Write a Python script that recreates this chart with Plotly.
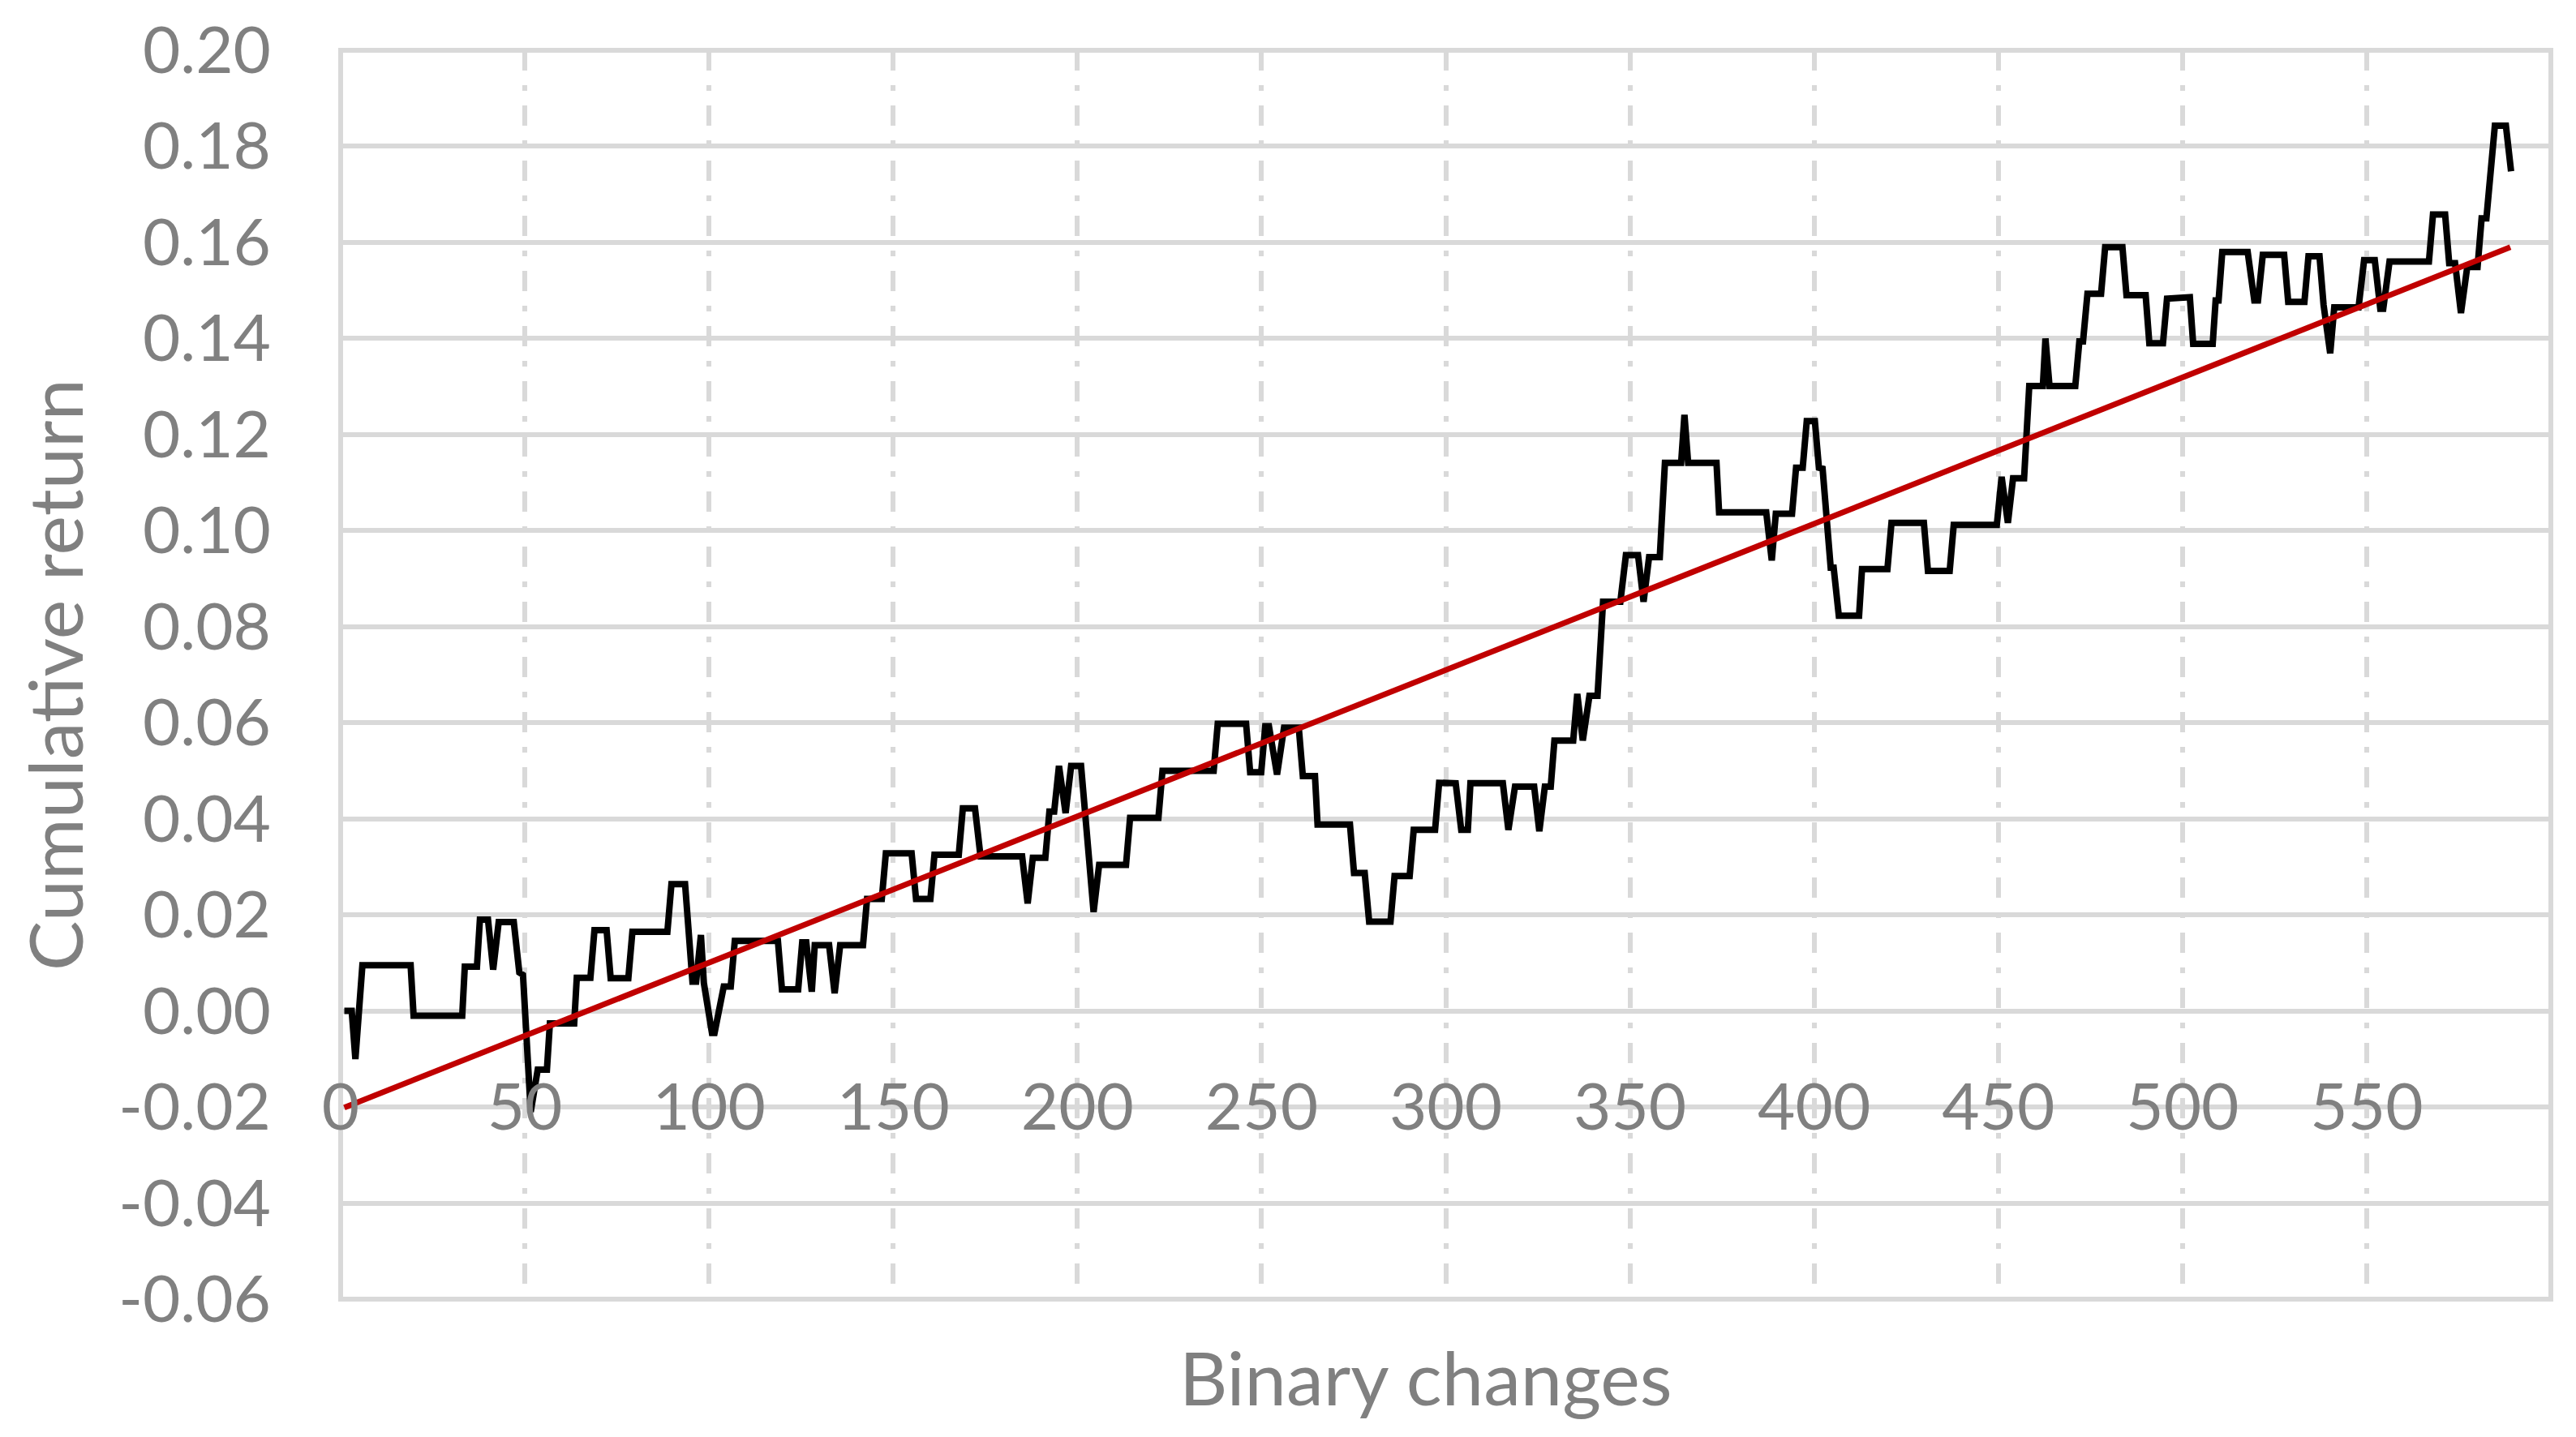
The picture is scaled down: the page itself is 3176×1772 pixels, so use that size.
import plotly.graph_objects as go

# Cumulative return path (vertices of the black line)
ret_x = [1, 3, 4, 5.9, 19, 19.8, 33, 33.7, 37, 37.8, 40, 41.4, 42.9, 47, 48.5, 49.5,
         51.6, 53.5, 56, 56.8, 63.4, 64.1, 67.8, 68.9, 72.2, 73.3, 78.1, 79.2, 88.7, 89.8,
         93.5, 94.6, 95.5, 96.5, 97.8, 98.6, 100.8, 101.5,
         104, 105.9, 107, 118.7, 119.8, 124.2, 125.3, 126.4, 127.9, 128.7, 132.6, 134.1,
         135.6, 141.8, 142.9, 146.9, 148, 155, 156.2, 160.1, 161.2, 167.8, 168.9, 172.2,
         173.7, 185, 186.5, 187.9, 191.3, 192.4, 193.7, 195, 196.8, 198.3, 201, 204.4,
         205.9, 213.2, 214.3, 222, 223.1, 237, 238.1, 245.8, 246.9, 249.9, 251, 252,
         254.2, 256.1, 260.1, 261.2, 264.5, 265.2, 274, 275.1, 278, 279.2, 285, 286.1,
         290.2, 291.3, 297.1, 298.2, 302.7, 304.2, 306, 306.7, 315.5, 317, 318.8, 324,
         325.4, 326.9, 328.5, 329.5, 334.6, 335.7, 337.2, 339, 341.2, 342.7, 347.4, 348.9,
         352.2, 353.7, 355.2, 358.1, 359.5, 363.9, 364.8, 365.8, 373.5, 374.2, 387, 388.5,
         389.6, 394, 395.1, 396.9, 398, 400.2, 401.3, 402.3, 404.5, 405.3, 406.7, 412.2,
         413, 419.9, 421, 429.8, 430.9, 436.8, 437.9, 449.6, 450.9, 452.6, 454, 457,
         458.4, 462.1, 462.8, 463.9, 470.9, 472, 473, 474.2, 477.9, 479, 483.7, 484.8,
         490, 491, 494.7, 495.8, 502, 502.9, 508.2, 509, 509.8, 510.8, 517.7, 519.5,
         520.5, 521.8, 527.6, 528.7, 533.1, 534.2, 537.2, 538.3, 540.1, 541.2, 547.8,
         549.3, 552.2, 553.7, 554.5, 556.2, 566.9, 568, 571.3, 572.4, 574, 575.6, 577.3,
         580.1, 581.2, 582.5, 584.8, 587.8, 589.2]
ret_y = [0.000, 0.000, -0.010, 0.0095, 0.0095, -0.001, -0.001, 0.0092, 0.0092, 0.019, 0.019,
         0.0086, 0.0185, 0.0185, 0.0080, 0.0075,
         -0.021, -0.0122, -0.0122, -0.0026, -0.0026, 0.0069, 0.0069, 0.0168, 0.0168, 0.0068,
         0.0068, 0.0165, 0.0165, 0.0264,
         0.0264, 0.0162, 0.0061, 0.0061, 0.0158, 0.0058, -0.0046, -0.0046,
         0.0051, 0.0051, 0.0146, 0.0146, 0.0045, 0.0045, 0.0143, 0.0143, 0.0040, 0.0137,
         0.0137, 0.0037,
         0.0137, 0.0137, 0.0233, 0.0233, 0.0328, 0.0328, 0.0233, 0.0233, 0.0325, 0.0325,
         0.0422, 0.0422,
         0.0322, 0.0322, 0.0224, 0.0319, 0.0319, 0.0415, 0.0415, 0.051, 0.0412, 0.051,
         0.051, 0.0206,
         0.0304, 0.0304, 0.0402, 0.0402, 0.050, 0.050, 0.0598, 0.0598, 0.0497, 0.0497,
         0.0593, 0.0593,
         0.0492, 0.059, 0.059, 0.0489, 0.0489, 0.0388, 0.0388, 0.0287, 0.0287, 0.0186,
         0.0186, 0.0281,
         0.0281, 0.0377, 0.0377, 0.0475, 0.0474, 0.0377, 0.0377, 0.0474, 0.0474, 0.0377,
         0.0467, 0.0467,
         0.0374, 0.0467, 0.0467, 0.0563, 0.0563, 0.066, 0.0563, 0.0656, 0.0656, 0.0852,
         0.0852, 0.0949,
         0.0949, 0.0852, 0.0945, 0.0945, 0.1141, 0.1141, 0.1241, 0.1141, 0.1141, 0.1038,
         0.1038, 0.0938,
         0.1035, 0.1035, 0.1131, 0.1131, 0.1228, 0.1228, 0.1131, 0.1129, 0.0923, 0.0923,
         0.0823, 0.0823,
         0.092, 0.092, 0.1016, 0.1016, 0.0916, 0.0916, 0.1012, 0.1012, 0.1112, 0.1016,
         0.1109, 0.1109,
         0.1301, 0.1301, 0.140, 0.1301, 0.1301, 0.1394, 0.1394, 0.1493, 0.1493, 0.159,
         0.159, 0.149,
         0.149, 0.139, 0.139, 0.1483, 0.1486, 0.1389, 0.1389, 0.1479, 0.1479, 0.158,
         0.158, 0.1479,
         0.1479, 0.1574, 0.1574, 0.1476, 0.1476, 0.1571, 0.1571, 0.147, 0.1369, 0.1465,
         0.1465,
         0.1563, 0.1563, 0.1462, 0.1462, 0.156, 0.156, 0.1658, 0.1658, 0.1557, 0.1557,
         0.1453, 0.1549,
         0.1549, 0.165, 0.165, 0.1843, 0.1843, 0.1748]

# Linear trend line endpoints
trend_x = [1, 589]
trend_y = [-0.0201, 0.1590]

# Axis ticks
x_tick_vals = [0, 50, 100, 150, 200, 250, 300, 350, 400, 450, 500, 550]
x_tick_text = ["0", "50", "100", "150", "200", "250", "300", "350", "400", "450", "500", "550"]
y_tick_vals = [-0.06, -0.04, -0.02, 0.00, 0.02, 0.04, 0.06, 0.08, 0.10, 0.12, 0.14, 0.16, 0.18, 0.20]
y_tick_text = ["-0.06", "-0.04", "-0.02", "0.00", "0.02", "0.04", "0.06", "0.08", "0.10",
               "0.12", "0.14", "0.16", "0.18", "0.20"]

GRID = "#D9D9D9"
TXT = "#808080"
FONT = "Lato"

fig = go.Figure()
fig.add_trace(go.Scatter(x=ret_x, y=ret_y, mode="lines",
                         line=dict(color="#000000", width=8), showlegend=False))
fig.add_trace(go.Scatter(x=trend_x, y=trend_y, mode="lines",
                         line=dict(color="#C00000", width=7), showlegend=False))

Y0, Y1 = -0.06, 0.20
x_axis_val = -0.0111
fig.update_layout(
    width=3176, height=1772,
    margin=dict(l=412, r=39, t=54, b=178, autoexpand=False),
    paper_bgcolor="white", plot_bgcolor="white",
    font=dict(family=FONT, color=TXT, size=80),
    xaxis=dict(range=[0, 600], tickvals=x_tick_vals, ticktext=x_tick_text,
               showgrid=True, gridcolor=GRID, gridwidth=6,
               griddash="25px,18px,7px,18px", automargin=False,
               zeroline=False, showline=False, ticks="",
               anchor="free", position=(x_axis_val - Y0) / (Y1 - Y0),
               tickfont=dict(family=FONT, size=80, color=TXT)),
    yaxis=dict(range=[Y0, Y1], tickvals=y_tick_vals, ticktext=y_tick_text,
               showgrid=True, gridcolor=GRID, gridwidth=6, automargin=False,
               zeroline=False, showline=False, ticks="",
               ticklabelstandoff=85,
               tickfont=dict(family=FONT, size=80, color=TXT)),
    shapes=[dict(type="rect", xref="paper", yref="paper", x0=0, x1=1, y0=0, y1=1,
                 line=dict(color=GRID, width=6), fillcolor="rgba(0,0,0,0)", layer="between")],
    annotations=[
        dict(text="Binary changes", xref="paper", yref="paper", x=0.491, y=0,
             xanchor="center", yanchor="middle", yshift=-95, showarrow=False,
             font=dict(family=FONT, size=92, color=TXT)),
        dict(text="Cumulative return", xref="paper", yref="paper", x=0, y=0.5,
             xanchor="center", yanchor="middle", xshift=-354, textangle=-90,
             borderpad=0, showarrow=False, font=dict(family=FONT, size=92, color=TXT)),
    ],
)

fig.write_html("out.html")
